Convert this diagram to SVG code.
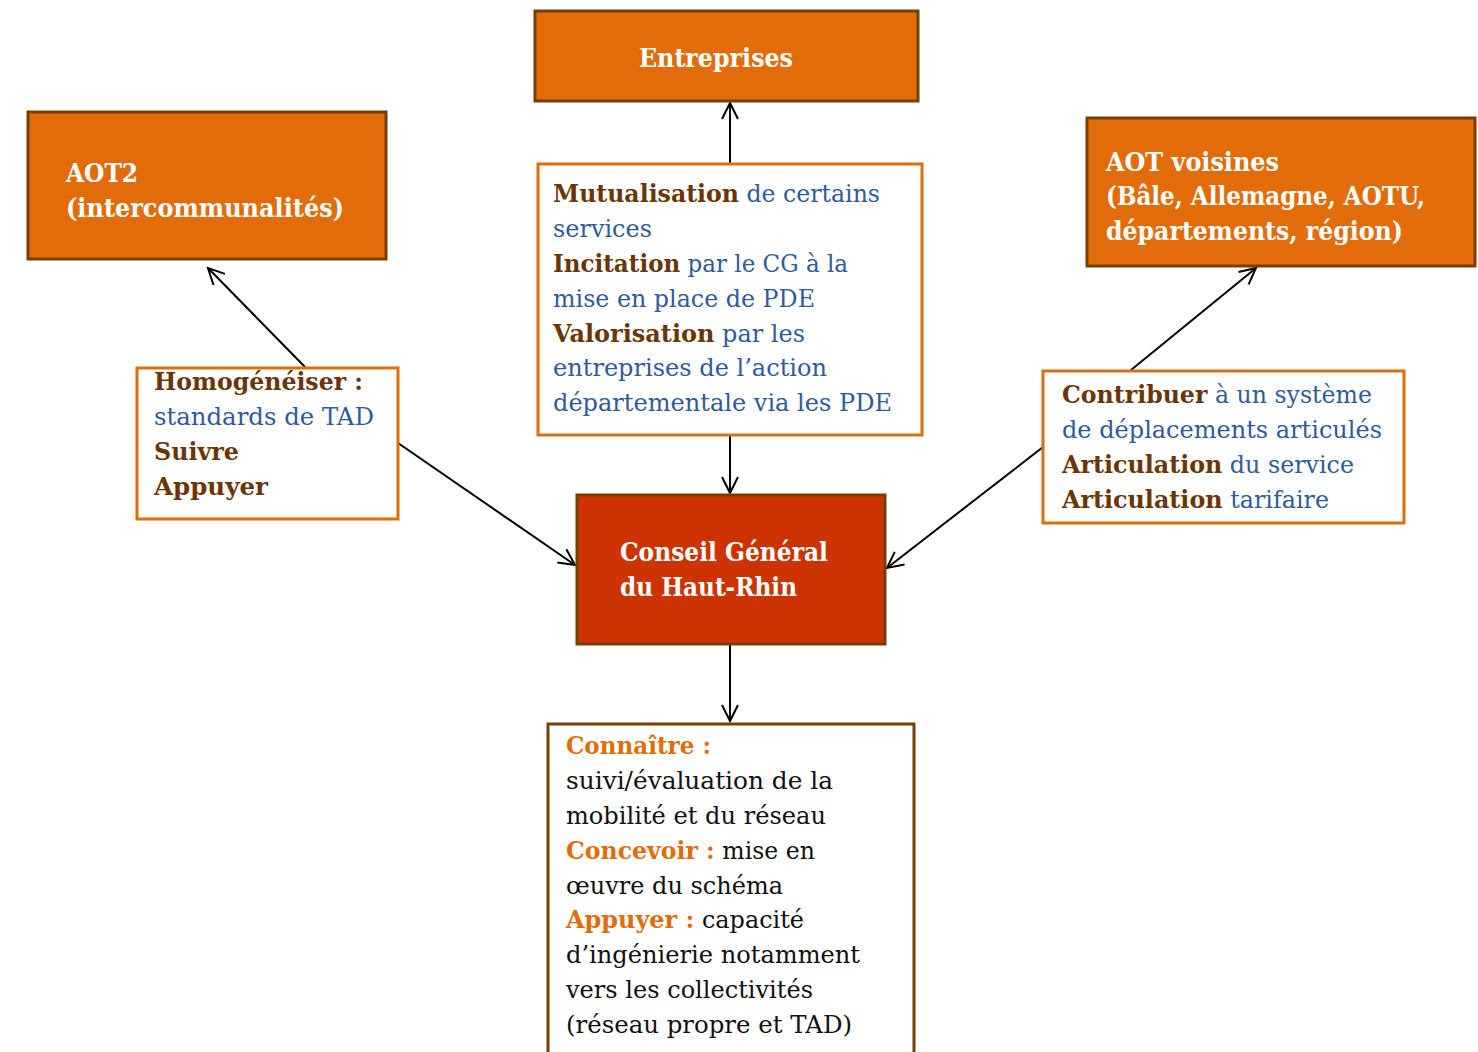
<svg xmlns="http://www.w3.org/2000/svg" width="1478" height="1052" viewBox="0 0 1478 1052">
<style>
text{font-family:"DejaVu Serif","Liberation Serif",serif;font-size:24.5px}
.fill{fill:#E36C0A;stroke:#783F04;stroke-width:3}
.cg{fill:#CC3300;stroke:#783F04;stroke-width:3}
.box{fill:#FFFFFF;stroke:#E36C0A;stroke-width:3}
.boxd{fill:#FFFFFF;stroke:#783F04;stroke-width:3}
.w{fill:#FFFFFF;font-weight:bold;font-size:25.5px}
.b{fill:#6B3506;font-weight:bold}
.u{fill:#2F5C99}
.o{fill:#E36C0A;font-weight:bold}
.k{fill:#111111}
.c{stroke:#000000;stroke-width:2;fill:none;marker-end:url(#ah)}
</style>
<defs>
<marker id="ah" viewBox="0 0 20 20" refX="18" refY="10" markerWidth="20" markerHeight="20" markerUnits="userSpaceOnUse" orient="auto">
<path d="M2,2 L18,10 L2,18" fill="none" stroke="#000" stroke-width="2"/>
</marker>
</defs>
<rect width="1478" height="1052" fill="#FFFFFF"/>
<g id="connectors">
<line class="c" x1="730" y1="164" x2="730" y2="103"/>
<line class="c" x1="730" y1="436" x2="730" y2="493"/>
<line class="c" x1="730" y1="645" x2="730" y2="721"/>
<line class="c" x1="305" y1="367" x2="208" y2="268"/>
<line class="c" x1="398" y1="443" x2="575" y2="565"/>
<line class="c" x1="1131" y1="370" x2="1256" y2="268"/>
<line class="c" x1="1043" y1="447" x2="887" y2="568"/>
</g>
<g id="entreprises">
<rect class="fill" x="535" y="11" width="383" height="90"/>
<text class="w" x="639" y="67" textLength="154" lengthAdjust="spacingAndGlyphs">Entreprises</text>
</g>
<g id="aot2">
<rect class="fill" x="28" y="112" width="358" height="147"/>
<text class="w" x="66" y="182" textLength="72" lengthAdjust="spacingAndGlyphs">AOT2</text>
<text class="w" x="66" y="217" textLength="278" lengthAdjust="spacingAndGlyphs">(intercommunalités)</text>
</g>
<g id="aot-voisines">
<rect class="fill" x="1087" y="118" width="388" height="148"/>
<text class="w" x="1106" y="171" textLength="173" lengthAdjust="spacingAndGlyphs">AOT voisines</text>
<text class="w" x="1106" y="205" textLength="319" lengthAdjust="spacingAndGlyphs">(Bâle, Allemagne, AOTU,</text>
<text class="w" x="1106" y="240" textLength="297" lengthAdjust="spacingAndGlyphs">départements, région)</text>
</g>
<g id="mutualisation">
<rect class="box" x="538" y="164" width="384" height="271"/>
<text x="553" y="202" textLength="327" lengthAdjust="spacingAndGlyphs"><tspan class="b">Mutualisation</tspan><tspan class="u"> de certains</tspan></text>
<text class="u" x="553" y="237" textLength="99" lengthAdjust="spacingAndGlyphs">services</text>
<text x="553" y="272" textLength="295" lengthAdjust="spacingAndGlyphs"><tspan class="b">Incitation</tspan><tspan class="u"> par le CG à la</tspan></text>
<text class="u" x="553" y="307" textLength="262" lengthAdjust="spacingAndGlyphs">mise en place de PDE</text>
<text x="553" y="342" textLength="252" lengthAdjust="spacingAndGlyphs"><tspan class="b">Valorisation</tspan><tspan class="u"> par les</tspan></text>
<text class="u" x="553" y="376" textLength="274" lengthAdjust="spacingAndGlyphs">entreprises de l’action</text>
<text class="u" x="553" y="411" textLength="339" lengthAdjust="spacingAndGlyphs">départementale via les PDE</text>
</g>
<g id="homogeneiser">
<rect class="box" x="137" y="368" width="261" height="151"/>
<text class="b" x="154" y="390" textLength="209" lengthAdjust="spacingAndGlyphs">Homogénéiser :</text>
<text class="u" x="154" y="425" textLength="220" lengthAdjust="spacingAndGlyphs">standards de TAD</text>
<text class="b" x="154" y="460" textLength="85" lengthAdjust="spacingAndGlyphs">Suivre</text>
<text class="b" x="154" y="495" textLength="114" lengthAdjust="spacingAndGlyphs">Appuyer</text>
</g>
<g id="contribuer">
<rect class="box" x="1043" y="371" width="361" height="152"/>
<text x="1062" y="403" textLength="310" lengthAdjust="spacingAndGlyphs"><tspan class="b">Contribuer</tspan><tspan class="u"> à un système</tspan></text>
<text class="u" x="1062" y="438" textLength="320" lengthAdjust="spacingAndGlyphs">de déplacements articulés</text>
<text x="1062" y="473" textLength="292" lengthAdjust="spacingAndGlyphs"><tspan class="b">Articulation</tspan><tspan class="u"> du service</tspan></text>
<text x="1062" y="508" textLength="267" lengthAdjust="spacingAndGlyphs"><tspan class="b">Articulation</tspan><tspan class="u"> tarifaire</tspan></text>
</g>
<g id="conseil-general">
<rect class="cg" x="577" y="495" width="308" height="149"/>
<text class="w" x="620" y="561" textLength="208" lengthAdjust="spacingAndGlyphs">Conseil Général</text>
<text class="w" x="620" y="596" textLength="177" lengthAdjust="spacingAndGlyphs">du Haut-Rhin</text>
</g>
<g id="connaitre">
<rect class="boxd" x="548" y="724" width="366" height="340"/>
<text class="o" x="566" y="754" textLength="145" lengthAdjust="spacingAndGlyphs">Connaître :</text>
<text class="k" x="566" y="789" textLength="267" lengthAdjust="spacingAndGlyphs">suivi/évaluation de la</text>
<text class="k" x="566" y="824" textLength="260" lengthAdjust="spacingAndGlyphs">mobilité et du réseau</text>
<text x="566" y="859" textLength="249" lengthAdjust="spacingAndGlyphs"><tspan class="o">Concevoir :</tspan><tspan class="k"> mise en</tspan></text>
<text class="k" x="566" y="894" textLength="217" lengthAdjust="spacingAndGlyphs">œuvre du schéma</text>
<text x="566" y="928" textLength="238" lengthAdjust="spacingAndGlyphs"><tspan class="o">Appuyer :</tspan><tspan class="k"> capacité</tspan></text>
<text class="k" x="566" y="963" textLength="294" lengthAdjust="spacingAndGlyphs">d’ingénierie notamment</text>
<text class="k" x="566" y="998" textLength="247" lengthAdjust="spacingAndGlyphs">vers les collectivités</text>
<text class="k" x="566" y="1033" textLength="286" lengthAdjust="spacingAndGlyphs">(réseau propre et TAD)</text>
</g>
</svg>
